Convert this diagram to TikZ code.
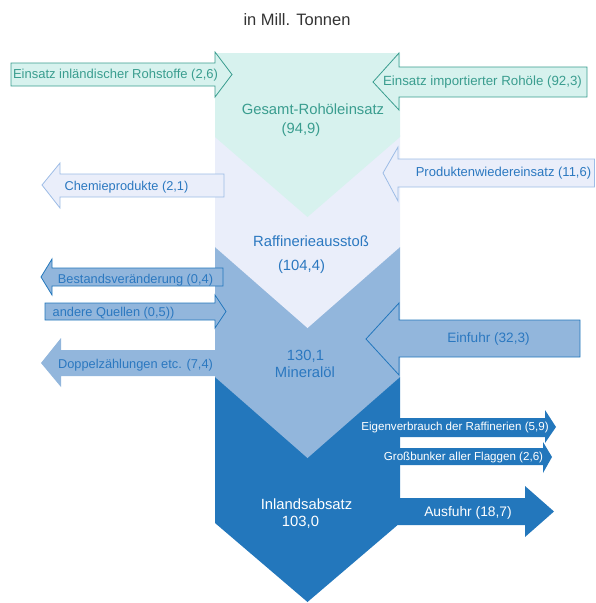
\documentclass[tikz,border=0pt]{standalone}
\usepackage{fontspec}
\setmainfont{Liberation Sans}
\definecolor{tealtxt}{HTML}{3A9D8F}
\definecolor{mint}{HTML}{D7F2EE}
\definecolor{lav}{HTML}{EAEEFA}
\definecolor{lavline}{HTML}{9DBCE6}
\definecolor{bluetxt}{HTML}{2B78C0}
\definecolor{med}{HTML}{92B6DC}
\definecolor{dark}{HTML}{2377BC}
\definecolor{titlegray}{HTML}{333333}
\tikzset{
  lbl/.style={inner sep=0pt, text height=0.72em, text depth=0pt, anchor=center},
  big/.style={lbl, font=\fontsize{14.8}{17}\selectfont},
  small/.style={lbl, font=\fontsize{12.8}{15}\selectfont},
  tiny/.style={lbl, font=\fontsize{11.6}{14}\selectfont},
  mintarrow/.style={fill=mint, draw=tealtxt, line width=0.8pt, line join=miter},
  lavarrow/.style={fill=lav, draw=lavline, line width=0.8pt, line join=miter},
  medarrow/.style={fill=med, draw=dark, line width=0.8pt, line join=miter},
  medplain/.style={fill=med},
  darkplain/.style={fill=dark},
}
\begin{document}
\begin{tikzpicture}[x=1pt,y=-1pt]
\useasboundingbox (0,0) rectangle (595,603);
% column layers
\fill[dark] (215,377)--(400,377)--(400,523)--(307.5,602)--(215,523)--cycle;
\fill[med] (215,247)--(400,247)--(400,377)--(307.5,458)--(215,377)--cycle;
\fill[lav] (215,135)--(400,135)--(400,247)--(307.5,328)--(215,247)--cycle;
\fill[mint] (215,53)--(400,53)--(400,137)--(307.5,217)--(215,137)--cycle;
% arrows
\path[mintarrow] (11,63)--(215,63)--(215,52)--(232,74.5)--(215,97)--(215,86)--(11,86)--cycle;
\path[mintarrow] (373,82)--(399,53)--(399,67)--(587,67)--(587,97)--(399,97)--(399,110)--cycle;
\path[lavarrow] (42,185)--(60,163)--(60,174)--(224,174)--(224,197)--(60,197)--(60,208)--cycle;
\path[lavarrow] (383,173)--(398,147)--(398,159)--(594.5,159)--(594.5,187)--(398,187)--(398,201)--cycle;
\path[medarrow] (41,277)--(52,259)--(52,268)--(223,268)--(223,286)--(52,286)--(52,295)--cycle;
\path[medarrow] (45,303)--(215,303)--(215,295)--(226,311.5)--(215,328)--(215,320)--(45,320)--cycle;
\path[medplain] (41,363)--(61,338)--(61,350)--(220,350)--(220,376)--(61,376)--(61,387)--cycle;
\path[medarrow] (366,339)--(399,303)--(399,320)--(580,320)--(580,357)--(399,357)--(399,375)--cycle;
\path[darkplain] (398,418)--(545,418)--(545,410)--(556,427)--(545,443)--(545,437)--(398,437)--cycle;
\path[darkplain] (398,448)--(543,448)--(543,442)--(552,457)--(543,473)--(543,465)--(398,465)--cycle;
\path[darkplain] (398,498)--(525,498)--(525,486)--(554,511.5)--(525,537)--(525,525)--(398,525)--cycle;
% labels
\node[lbl, font=\fontsize{16.5}{19}\selectfont, text=titlegray] (title) at (297,22) {in Mill. Tonnen};
\node[small, text=tealtxt, font=\fontsize{13}{15}\selectfont] (inl) at (115.5,75) {Einsatz inländischer Rohstoffe (2,6)};
\node[small, text=tealtxt, font=\fontsize{13.3}{15}\selectfont] (imp) at (482.5,82) {Einsatz importierter Rohöle (92,3)};
\node[big, text=tealtxt] (ges) at (313,111) {Gesamt-Rohöleinsatz};
\node[big, text=tealtxt] (gesv) at (301,130) {(94,9)};
\node[small, text=bluetxt] (chem) at (126.5,187) {Chemieprodukte (2,1)};
\node[small, text=bluetxt, font=\fontsize{13}{15}\selectfont] (prod) at (503.5,173) {Produktenwiedereinsatz (11,6)};
\node[big, text=bluetxt] (raf) at (311,243) {Raffinerieausstoß};
\node[big, text=bluetxt] (rafv) at (301.5,267) {(104,4)};
\node[small, text=bluetxt] (best) at (135.5,280) {Bestandsveränderung (0,4)};
\node[small, text=bluetxt] (quel) at (113.5,312.5) {andere Quellen (0,5))};
\node[small, text=bluetxt] (dopp) at (135.5,365) {Doppelzählungen etc. (7,4)};
\node[small, text=bluetxt, font=\fontsize{13.6}{15}\selectfont] (einf) at (488.5,339) {Einfuhr (32,3)};
\node[big, text=bluetxt] (minv) at (305.5,357) {130,1};
\node[big, text=bluetxt] (min) at (305,374) {Mineralöl};
\node[tiny, text=white] (eigen) at (455,427) {Eigenverbrauch der Raffinerien (5,9)};
\node[tiny, text=white] (gross) at (463.5,457) {Großbunker aller Flaggen (2,6)};
\node[small, text=white, font=\fontsize{13.8}{16}\selectfont] (aus) at (468,513) {Ausfuhr (18,7)};
\node[big, text=white] (inla) at (306.5,506) {Inlandsabsatz};
\node[big, text=white] (inlav) at (300.5,523) {103,0};
\end{tikzpicture}
\end{document}
